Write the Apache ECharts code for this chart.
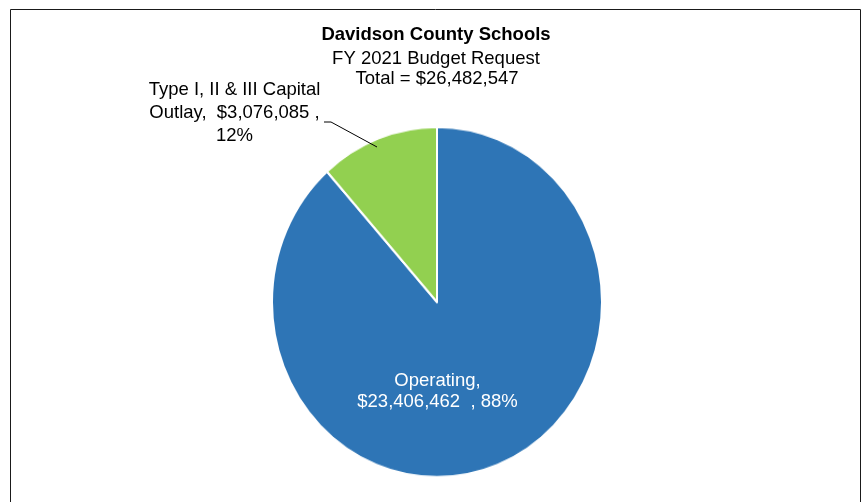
<!DOCTYPE html>
<html>
<head>
<meta charset="utf-8">
<script src="https://cdn.jsdelivr.net/npm/echarts@6/dist/echarts.min.js"></script>
<style>
  html, body { margin: 0; padding: 0; background: #fff; overflow: hidden; }
  #wrap { position: relative; width: 862px; height: 502px; overflow: hidden; }
  #pie, #text { position: absolute; left: 0; top: 0; width: 862px; height: 502px; }
  #pie { transform-origin: 0 0; }
</style>
</head>
<body>
<div id="wrap">
  <div id="pie"></div>
  <div id="text"></div>
</div>
<script>
// Budget request split (dollars)
const categories = ['Operating', 'Type I, II & III Capital Outlay'];
const amounts = [23406462, 3076085];
const sliceColors = ['#2E75B6', '#92D050'];
const titleLines = ['Davidson County Schools', 'FY 2021 Budget Request'];

const FONT = "'Liberation Sans', Arial, sans-serif";
const total = amounts.reduce((a, b) => a + b, 0);
const money = v => '$' + v.toLocaleString('en-US');
const pieData = categories.map((c, i) => ({ name: c, value: amounts[i] }));

// The plot is slightly taller than wide: the disc layer is stretched vertically.
const CX = 437, CY = 302, RX = 165, RY = 175;
const stretch = RY / RX;

// ---- disc layer ----
const pieEl = document.getElementById('pie');
pieEl.style.height = (502 / stretch) + 'px';
pieEl.style.transform = 'scaleY(' + stretch + ')';
const pieChart = echarts.init(pieEl, null, { renderer: 'canvas' });
pieChart.setOption({
  animation: false,
  series: [{
    type: 'pie',
    center: [CX, CY / stretch],
    radius: RX,
    startAngle: 90,
    clockwise: true,
    silent: true,
    label: { show: false },
    labelLine: { show: false },
    itemStyle: { borderColor: '#ffffff', borderWidth: 2 },
    data: pieData.map((d, i) => ({ ...d, itemStyle: { color: sliceColors[i] } }))
  }]
});

// ---- frame, titles and data labels ----
const textChart = echarts.init(document.getElementById('text'), null, { renderer: 'canvas' });

function labelText(p) {
  const pct = Math.round(p.percent) + '%';
  if (p.dataIndex === 0) {
    return p.name + ',\n' + money(p.value) + '  , ' + pct;
  }
  return 'Type I, II & III Capital\nOutlay,  ' + money(p.value) + ' ,\n' + pct;
}

textChart.setOption({
  animation: false,
  backgroundColor: 'transparent',
  graphic: [
    {
      type: 'rect', silent: true,
      shape: { x: 10.5, y: 9.5, width: 850, height: 560 },
      style: { fill: 'none', stroke: '#1a1a1a', lineWidth: 1 }
    },
    {
      type: 'text', x: 436, y: 35, silent: true,
      style: { text: titleLines[0], font: 'bold 18.5px ' + FONT, fill: '#000', align: 'center', verticalAlign: 'middle' }
    },
    {
      type: 'text', x: 436, y: 58.5, silent: true,
      style: { text: titleLines[1], font: '18.5px ' + FONT, fill: '#000', align: 'center', verticalAlign: 'middle' }
    },
    {
      type: 'text', x: 437, y: 78.5, silent: true,
      style: { text: 'Total = ' + money(total), font: '18.5px ' + FONT, fill: '#000', align: 'center', verticalAlign: 'middle' }
    }
  ],
  series: [{
    type: 'pie',
    center: [CX, CY],
    radius: (RX + RY) / 2,
    startAngle: 90,
    clockwise: true,
    silent: true,
    itemStyle: { color: 'rgba(0,0,0,0)', borderWidth: 0 },
    emphasis: { disabled: true },
    label: {
      show: true,
      formatter: labelText,
      fontFamily: FONT,
      fontSize: 18.5,
      align: 'center'
    },
    labelLine: { show: true, lineStyle: { color: '#000', width: 1 } },
    labelLayout: function (p) {
      if (p.dataIndex === 0) {
        return { x: 437.5, y: 391.5, align: 'center', verticalAlign: 'middle' };
      }
      return {
        x: 234.5, y: 113, align: 'center', verticalAlign: 'middle',
        labelLinePoints: [[377, 147], [331, 122], [324, 122]]
      };
    },
    data: [
      {
        name: categories[0], value: amounts[0],
        label: { position: 'inside', color: '#ffffff', lineHeight: 21 },
        labelLine: { show: false }
      },
      {
        name: categories[1], value: amounts[1],
        label: { position: 'outside', color: '#000000', lineHeight: 23 }
      }
    ]
  }]
});
</script>
</body>
</html>
